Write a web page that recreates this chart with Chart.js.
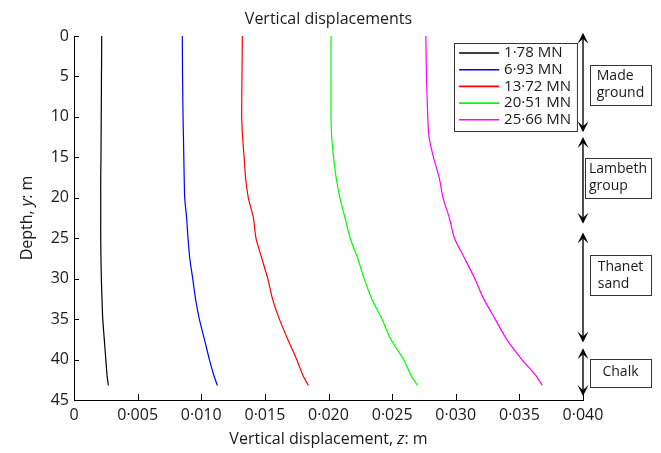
<!DOCTYPE html>
<html>
<head>
<meta charset="utf-8">
<script src="https://cdn.jsdelivr.net/npm/chart.js@4.4.1/dist/chart.umd.min.js"></script>
<style>
  html, body { margin: 0; padding: 0; background: #fff; }
</style>
</head>
<body>
<canvas id="chart" width="661" height="453"></canvas>
<script>
// depth (m) down the pile, shared by all load cases
const depths = [0, 5, 10, 12.5, 15, 17.5, 20, 22.5, 25, 27.5, 30, 32.5, 35, 37.5, 40, 42, 43.2]

// vertical displacement (m) at each depth, one list per applied load
const disp178  = [0.00218, 0.00216, 0.00214, 0.00213, 0.00212, 0.0021, 0.0021, 0.0021, 0.0021, 0.00212, 0.00215, 0.0022, 0.00226, 0.00238, 0.0025, 0.0026, 0.0027]
const disp693  = [0.00851, 0.00853, 0.00857, 0.0086, 0.00863, 0.00866, 0.0087, 0.00885, 0.00896, 0.0091, 0.00933, 0.00955, 0.00985, 0.01025, 0.01064, 0.011, 0.01127]
const disp1372 = [0.01323, 0.0132, 0.01318, 0.01325, 0.01337, 0.01348, 0.0137, 0.0141, 0.0143, 0.01476, 0.01523, 0.0156, 0.01614, 0.0168, 0.0175, 0.018, 0.01842]
const disp2051 = [0.0202, 0.0202, 0.0202, 0.02025, 0.0204, 0.0206, 0.0209, 0.0213, 0.0217, 0.0223, 0.0228, 0.0234, 0.0242, 0.0249, 0.0259, 0.0265, 0.027]
const disp2566 = [0.02765, 0.0277, 0.0278, 0.0279, 0.02825, 0.0287, 0.029, 0.0295, 0.0299, 0.0307, 0.0315, 0.0322, 0.0331, 0.034, 0.0352, 0.0363, 0.0368]

const loadLabels = ['1·78 MN', '6·93 MN', '13·72 MN', '20·51 MN', '25·66 MN']
const loadColors = ['#000000', '#0000ff', '#ff0000', '#00ff00', '#ff00ff']

const xTicks = [0, 0.005, 0.010, 0.015, 0.020, 0.025, 0.030, 0.035, 0.040]
const yTicks = [0, 5, 10, 15, 20, 25, 30, 35, 40, 45]

// soil strata marked on the right
const layerNames  = [['Made', 'ground'], ['Lambeth', 'group'], ['Thanet', 'sand'], ['Chalk']]
const layerTop    = [-0.4, 12.5, 24.3, 38.6]
const layerBottom = [11.9, 23.2, 37.9, 44.5]
const labelDepth  = [6, 17.5, 29.6, 41.6]

const FONT = '"Open Sans", "DejaVu Sans", sans-serif'
const TEXT = '#1a1a1a'

const fmt = v => v === 0 ? '0' : v.toFixed(3).replace('.', '·')

const allDisp = [disp178, disp693, disp1372, disp2051, disp2566]
const datasets = allDisp.map((d, i) => ({
    label: loadLabels[i],
    data: d.map((x, k) => ({x, y: depths[k]})),
    borderColor: loadColors[i],
    borderWidth: 1.2,
    showLine: true,
    pointRadius: 0,
    tension: 0.25
}))

const mixed = (ctx, parts, cx, cy, size) => {
    const widths = parts.map(([t, it]) => {
        ctx.font = (it ? 'italic ' : '') + size + 'px ' + FONT
        return ctx.measureText(t).width
    })
    let xx = cx - widths.reduce((s, w) => s + w, 0) / 2
    parts.forEach(([t, it], i) => {
        ctx.font = (it ? 'italic ' : '') + size + 'px ' + FONT
        ctx.fillText(t, xx, cy)
        xx += widths[i]
    })
}

const arrowHead = (ctx, x, yTip, dir) => {
    ctx.beginPath()
    ctx.moveTo(x, yTip)
    ctx.lineTo(x + 5.5, yTip + dir * 11)
    ctx.lineTo(x, yTip + dir * 6)
    ctx.lineTo(x - 5.5, yTip + dir * 11)
    ctx.closePath()
    ctx.fill()
}

const decorations = {
    id: 'decorations',
    afterDraw(chart) {
        const {ctx, chartArea: a, scales: {x, y}} = chart
        ctx.save()

        // inward tick marks
        ctx.strokeStyle = '#000'
        ctx.lineWidth = 1
        ctx.beginPath()
        xTicks.forEach(v => {
            const px = Math.round(x.getPixelForValue(v)) + 0.5
            ctx.moveTo(px, a.bottom)
            ctx.lineTo(px, a.bottom - 6)
        })
        yTicks.forEach(v => {
            const py = Math.round(y.getPixelForValue(v)) + 0.5
            ctx.moveTo(a.left, py)
            ctx.lineTo(a.left + 5, py)
        })
        ctx.stroke()

        // titles
        ctx.fillStyle = TEXT
        ctx.textBaseline = 'middle'
        ctx.textAlign = 'left'
        mixed(ctx, [['Vertical displacements', false]], (a.left + a.right) / 2, 19, 16)
        mixed(ctx, [['Vertical displacement, ', false], ['z', true], [': m', false]], (a.left + a.right) / 2, 439, 16)
        ctx.save()
        ctx.translate(27, (a.top + a.bottom) / 2)
        ctx.rotate(-Math.PI / 2)
        mixed(ctx, [['Depth, ', false], ['y', true], [': m', false]], 0, 0, 16)
        ctx.restore()

        // legend
        ctx.font = '15px ' + FONT
        const tw = Math.max(...loadLabels.map(t => ctx.measureText(t).width))
        const lw = 50 + tw + 6
        const lh = 88
        const lx = a.right - 6 - lw
        const ly = a.top + 7
        ctx.fillStyle = '#fff'
        ctx.fillRect(lx, ly, lw, lh)
        ctx.strokeStyle = '#333'
        ctx.lineWidth = 1
        ctx.strokeRect(Math.round(lx) + 0.5, Math.round(ly) + 0.5, lw, lh)
        chart.data.datasets.forEach((ds, i) => {
            const ry = ly + 10 + i * 16.7
            ctx.strokeStyle = ds.borderColor
            ctx.lineWidth = 1.6
            ctx.beginPath()
            ctx.moveTo(lx + 5, ry)
            ctx.lineTo(lx + 45, ry)
            ctx.stroke()
            ctx.fillStyle = TEXT
            ctx.fillText(ds.label, lx + 50, ry)
        })

        // strata arrows and labels
        const ax = x.getPixelForValue(0.04)
        layerNames.forEach((lines, i) => {
            const t = y.getPixelForValue(layerTop[i])
            const b = y.getPixelForValue(layerBottom[i])
            ctx.strokeStyle = '#222'
            ctx.lineWidth = 1.6
            ctx.beginPath()
            ctx.moveTo(ax, t + 5)
            ctx.lineTo(ax, b - 5)
            ctx.stroke()
            ctx.fillStyle = '#000'
            arrowHead(ctx, ax, t, 1)
            arrowHead(ctx, ax, b, -1)

            ctx.font = '14px ' + FONT
            const w = Math.max(...lines.map(s => ctx.measureText(s).width))
            const bw = Math.max(w + 8, 61)
            const bh = lines.length * 17.5 + (lines.length > 1 ? 5 : 10)
            const bx = a.right + 68 - bw
            const cy = y.getPixelForValue(labelDepth[i])
            const by = cy - bh / 2
            ctx.strokeStyle = '#333'
            ctx.lineWidth = 1
            ctx.strokeRect(Math.round(bx) + 0.5, Math.round(by) + 0.5, Math.round(bw), Math.round(bh))
            ctx.fillStyle = TEXT
            const tx = lines.length > 1 ? bx + (bw - w) / 2 : bx + (bw - w) / 2
            lines.forEach((s, k) => {
                ctx.fillText(s, tx, cy + (k - (lines.length - 1) / 2) * 17.5)
            })
        })
        ctx.restore()
    }
}

new Chart(document.getElementById('chart'), {
    type: 'scatter',
    data: {datasets},
    options: {
        responsive: false,
        animation: false,
        layout: {padding: {top: 36, right: 78, left: 0, bottom: 0}},
        plugins: {
            legend: {display: false},
            title: {display: false},
            tooltip: {enabled: false}
        },
        scales: {
            x: {
                type: 'linear',
                min: 0,
                max: 0.04,
                afterBuildTicks: s => { s.ticks = xTicks.map(value => ({value})) },
                afterFit: s => { s.height = 53 },
                grid: {display: false, drawTicks: false},
                border: {color: '#000', width: 1},
                ticks: {
                    padding: 6,
                    color: TEXT,
                    font: {family: FONT, size: 16},
                    maxRotation: 0,
                    callback: v => fmt(v)
                }
            },
            y: {
                type: 'linear',
                reverse: true,
                min: 0,
                max: 45,
                afterBuildTicks: s => { s.ticks = yTicks.map(value => ({value})) },
                afterFit: s => { s.width = 74 },
                grid: {display: false, drawTicks: false},
                border: {color: '#000', width: 1},
                ticks: {
                    padding: 5,
                    color: TEXT,
                    font: {family: FONT, size: 16},
                    callback: v => String(v)
                }
            }
        }
    },
    plugins: [decorations]
})
</script>
</body>
</html>
